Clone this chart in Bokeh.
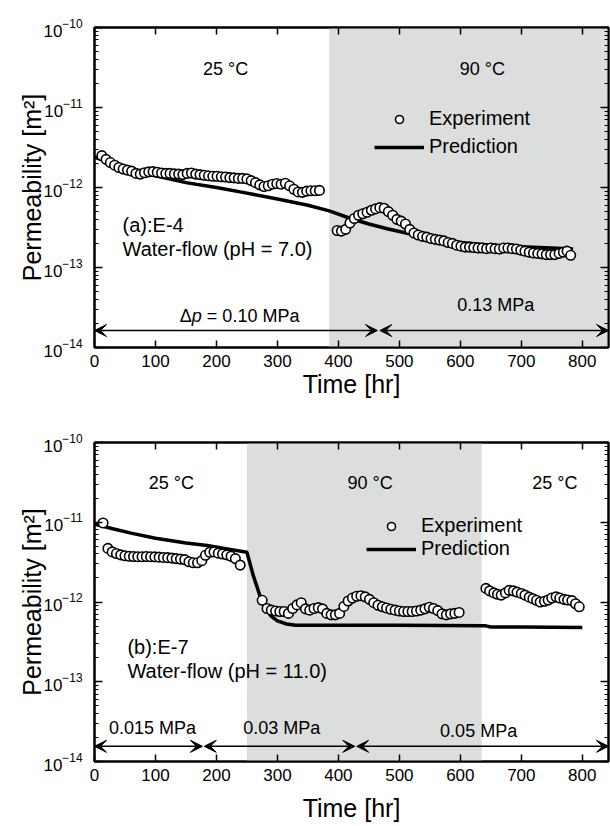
from bokeh.plotting import figure
from bokeh.layouts import column
from bokeh.models import (FixedTicker, LinearAxis, LogAxis, BoxAnnotation, Arrow,
                          VeeHead, Label, Legend, LegendItem, Range1d, CustomJSTickFormatter)
from bokeh.embed import file_html
from bokeh.resources import INLINE

FONT = "Liberation Sans"

# ---------------- data: panel (a) E-4 ----------------
a_exp_time = [12, 19, 26, 33, 40, 47, 54, 61, 68, 75, 82, 89, 96, 103, 110, 117, 124, 131, 138,
              145, 152, 159, 166, 173, 180, 187, 194, 201, 208, 215, 222, 229, 236, 243, 250,
              257, 264, 271, 278, 285, 292, 299, 306, 313, 320, 327, 334, 341, 348, 355, 362, 369,
              398, 405, 412, 419, 426, 433, 440, 447, 454, 461, 468, 475, 482, 489, 496, 503,
              510, 517, 524, 531, 538, 545, 552, 559, 566, 573, 580, 587, 594, 601, 608, 615,
              622, 629, 636, 643, 650, 657, 664, 671, 678, 685, 692, 699, 706, 713, 720, 727,
              734, 741, 748, 755, 762, 769, 775, 781]
a_exp_perm = [2.5e-12, 2.25e-12, 2.05e-12, 1.9e-12, 1.78e-12, 1.7e-12, 1.65e-12, 1.6e-12, 1.5e-12,
              1.47e-12, 1.53e-12, 1.57e-12, 1.58e-12, 1.55e-12, 1.52e-12, 1.5e-12, 1.5e-12,
              1.48e-12, 1.47e-12, 1.45e-12, 1.5e-12, 1.52e-12, 1.47e-12, 1.45e-12, 1.42e-12,
              1.4e-12, 1.38e-12, 1.38e-12, 1.36e-12, 1.35e-12, 1.33e-12, 1.32e-12, 1.3e-12,
              1.3e-12, 1.28e-12, 1.22e-12, 1.15e-12, 1.08e-12, 1.03e-12, 1.05e-12, 1.1e-12,
              1.12e-12, 1.1e-12, 1.13e-12, 1.05e-12, 0.95e-12, 0.88e-12, 0.87e-12, 0.9e-12,
              0.91e-12, 0.91e-12, 0.92e-12,
              2.9e-13, 2.85e-13, 3.0e-13, 3.6e-13, 4.1e-13, 4.5e-13, 4.7e-13, 4.9e-13, 5.2e-13,
              5.4e-13, 5.6e-13, 5.5e-13, 5.0e-13, 4.5e-13, 4.0e-13, 3.8e-13, 3.5e-13, 3.0e-13,
              2.7e-13, 2.55e-13, 2.45e-13, 2.4e-13, 2.3e-13, 2.25e-13, 2.2e-13, 2.15e-13,
              2.05e-13, 2.0e-13, 1.9e-13, 1.85e-13, 1.8e-13, 1.8e-13, 1.78e-13, 1.75e-13,
              1.75e-13, 1.72e-13, 1.75e-13, 1.72e-13, 1.7e-13, 1.75e-13, 1.75e-13, 1.72e-13,
              1.7e-13, 1.65e-13, 1.6e-13, 1.55e-13, 1.52e-13, 1.5e-13, 1.48e-13, 1.45e-13,
              1.45e-13, 1.45e-13, 1.5e-13, 1.55e-13, 1.6e-13, 1.42e-13]
a_pred_time = [0, 20, 50, 100, 150, 200, 250, 300, 350, 385, 420, 450, 480, 520, 560, 600,
               650, 700, 750, 785]
a_pred_perm = [2.4e-12, 2.1e-12, 1.75e-12, 1.4e-12, 1.15e-12, 1.0e-12, 8.5e-13, 7.2e-13,
               6.0e-13, 5.1e-13, 4.1e-13, 3.5e-13, 3.05e-13, 2.6e-13, 2.3e-13, 2.05e-13,
               1.9e-13, 1.82e-13, 1.75e-13, 1.7e-13]

# ---------------- data: panel (b) E-7 ----------------
b_exp_time = [14, 22, 29, 36, 43, 50, 57, 64, 71, 78, 85, 92, 99, 106, 113, 120, 127, 134, 141,
              148, 155, 162, 169, 176, 182, 189, 196, 203, 210, 217, 224, 231, 239,
              275, 283, 290, 297, 304, 311, 318, 325, 332, 339, 346, 353, 360, 367, 374, 381,
              388, 395, 402, 409, 416, 423, 430, 437, 444, 451, 458, 465, 472, 479, 486, 493,
              500, 507, 514, 521, 528, 535, 542, 549, 556, 563, 570, 577, 584, 591, 598,
              642, 648, 655, 661, 667, 674, 680, 687, 693, 700, 706, 713, 719, 725, 731, 738,
              744, 750, 757, 763, 770, 776, 783, 789, 795]
b_exp_perm = [9.8e-12, 4.7e-12, 4.25e-12, 4.05e-12, 3.9e-12, 3.8e-12, 3.75e-12, 3.72e-12,
              3.7e-12, 3.7e-12, 3.72e-12, 3.7e-12, 3.68e-12, 3.65e-12, 3.62e-12, 3.6e-12,
              3.55e-12, 3.5e-12, 3.45e-12, 3.4e-12, 3.2e-12, 3.1e-12, 3.1e-12, 3.3e-12,
              3.85e-12, 4.2e-12, 4.25e-12, 4.1e-12, 4.0e-12, 3.9e-12, 3.75e-12, 3.5e-12, 2.9e-12,
              1.05e-12, 8.3e-13, 7.9e-13, 7.7e-13, 7.6e-13, 7.6e-13, 7.2e-13, 8.3e-13, 9.2e-13,
              9.8e-13, 8.2e-13, 7.9e-13, 8.3e-13, 8.5e-13, 8.2e-13, 7.2e-13, 6.9e-13, 6.9e-13,
              7.2e-13, 8.8e-13, 1.03e-12, 1.12e-12, 1.18e-12, 1.2e-12, 1.16e-12, 1.08e-12,
              9.8e-13, 9.1e-13, 8.7e-13, 8.4e-13, 8.1e-13, 7.9e-13, 7.7e-13, 7.6e-13, 7.6e-13,
              7.6e-13, 7.7e-13, 7.9e-13, 8.2e-13, 8.6e-13, 8.3e-13, 7.8e-13, 7.1e-13, 6.9e-13,
              7.1e-13, 7.2e-13, 7.4e-13,
              1.48e-12, 1.38e-12, 1.3e-12, 1.25e-12, 1.22e-12, 1.3e-12, 1.4e-12, 1.38e-12,
              1.33e-12, 1.28e-12, 1.22e-12, 1.15e-12, 1.1e-12, 1.05e-12, 1.0e-12, 1.02e-12,
              1.06e-12, 1.12e-12, 1.16e-12, 1.12e-12, 1.08e-12, 1.06e-12, 1.04e-12, 0.95e-12,
              0.87e-12]
b_pred_time = [0, 30, 60, 100, 150, 185, 220, 250, 260, 272, 280, 290, 300, 315, 330, 400,
               500, 640, 650, 700, 800]
b_pred_perm = [9.5e-12, 8.3e-12, 7.3e-12, 6.3e-12, 5.5e-12, 5.1e-12, 4.6e-12, 4.2e-12,
               2.2e-12, 1.15e-12, 8.5e-13, 6.6e-13, 5.8e-13, 5.3e-13, 5.1e-13, 5.1e-13,
               5.1e-13, 5.05e-13, 4.85e-13, 4.85e-13, 4.8e-13]

# ---------------- axes ticks ----------------
x_ticks = [0, 100, 200, 300, 400, 500, 600, 700, 800]
y_ticks = [1e-14, 1e-13, 1e-12, 1e-11, 1e-10]
y_minor = [m * d for d in [1e-14, 1e-13, 1e-12, 1e-11] for m in range(2, 10)]


def style_axis(ax, labels=True, minor=False):
    ax.axis_line_color = "black"
    ax.axis_line_width = 2
    ax.major_tick_in = 7
    ax.major_tick_out = 0
    ax.major_tick_line_color = "black"
    ax.major_tick_line_width = 1.5
    if minor:
        ax.minor_tick_in = 4
        ax.minor_tick_out = 0
        ax.minor_tick_line_color = "black"
        ax.minor_tick_line_width = 1
    else:
        ax.minor_tick_line_color = None
    ax.major_label_text_font = FONT
    ax.major_label_text_color = "black"
    ax.major_label_text_font_size = "17px"
    if not labels:
        ax.formatter = CustomJSTickFormatter(code="return ''")
        ax.major_label_standoff = 0


def make_panel(height, b_top, b_bottom, xlabel_standoff):
    p = figure(width=610, height=height, y_axis_type="log",
               x_range=Range1d(0, 843), y_range=Range1d(1e-14, 1e-10),
               output_backend="svg", toolbar_location=None,
               min_border_left=94, min_border_right=2,
               min_border_top=b_top, min_border_bottom=b_bottom)
    p.xgrid.visible = False
    p.ygrid.visible = False
    p.outline_line_color = "black"
    p.outline_line_width = 2
    p.background_fill_color = "white"
    p.border_fill_color = "white"

    p.xaxis.ticker = FixedTicker(ticks=x_ticks)
    p.yaxis.ticker = FixedTicker(ticks=y_ticks, minor_ticks=y_minor)
    for ax in p.xaxis:
        style_axis(ax)
        ax.axis_label = "Time [hr]"
        ax.axis_label_text_font = FONT
        ax.axis_label_text_font_style = "normal"
        ax.axis_label_text_font_size = "25px"
        ax.axis_label_text_color = "black"
        ax.axis_label_standoff = xlabel_standoff
        ax.major_label_standoff = 7
    for ax in p.yaxis:
        style_axis(ax, minor=True)
        ax.major_tick_in = 8
        ax.major_label_standoff = 12
        ax.axis_label = "Permeability [m²]"
        ax.axis_label_text_font = FONT
        ax.axis_label_text_font_style = "normal"
        ax.axis_label_text_font_size = "25px"
        ax.axis_label_text_color = "black"
        ax.axis_label_standoff = -6

    top_ax = LinearAxis(ticker=FixedTicker(ticks=x_ticks))
    style_axis(top_ax, labels=False)
    p.add_layout(top_ax, "above")
    right_ax = LogAxis(ticker=FixedTicker(ticks=y_ticks, minor_ticks=y_minor))
    style_axis(right_ax, labels=False, minor=True)
    right_ax.major_tick_in = 8
    p.add_layout(right_ax, "right")
    return p


def add_text(p, x, y, text, size, align="center", style="normal", x_offset=0):
    p.add_layout(Label(x=x, y=y, text=text, text_align=align, text_baseline="middle",
                       text_font=FONT, text_font_size=size, text_color="black",
                       text_font_style=style, x_offset=x_offset))


def add_arrow(p, x0, x1, y):
    p.add_layout(Arrow(x_start=x0, y_start=y, x_end=x1, y_end=y, line_width=1.5,
                       line_color="black",
                       start=VeeHead(size=12, fill_color="black", line_color="black"),
                       end=VeeHead(size=12, fill_color="black", line_color="black")))


def add_series(p, et, ep, pt, pp, loc, spacing):
    line = p.line(pt, pp, line_color="black", line_width=3.5)
    pts = p.scatter(et, ep, marker="circle", size=9.5, fill_color="white",
                    line_color="black", line_width=1.6)
    leg = Legend(items=[LegendItem(label="Experiment", renderers=[pts]),
                        LegendItem(label="Prediction", renderers=[line])],
                 location=loc, orientation="vertical", padding=0, margin=0,
                 spacing=spacing, glyph_width=50, glyph_height=20, label_height=20,
                 label_standoff=5, border_line_alpha=0, background_fill_alpha=0,
                 label_text_font=FONT, label_text_font_size="20px", label_text_color="black")
    p.add_layout(leg, "center")


# ---------------- panel (a) ----------------
p1 = make_panel(402, 27, 55, 0)
p1.add_layout(BoxAnnotation(left=385, fill_color="#dcdddd", fill_alpha=1.0,
                            line_alpha=0, level="underlay"))
add_series(p1, a_exp_time, a_exp_perm, a_pred_time, a_pred_perm, (280, 189), 5)
add_text(p1, 215, 3.0e-11, "25 °C", "18px")
add_text(p1, 636, 3.0e-11, "90 °C", "18px")
add_text(p1, 46, 3.35e-13, "(a):E-4", "20px", "left")
add_text(p1, 46, 1.7e-13, "Water-flow (pH = 7.0)", "20px", "left")
add_arrow(p1, 0, 464, 1.63e-14)
add_arrow(p1, 468, 843, 1.63e-14)
add_text(p1, 140, 2.5e-14, "Δ", "18px", "left")
add_text(p1, 140, 2.5e-14, "p", "18px", "left", "italic", 12)
add_text(p1, 140, 2.5e-14, "= 0.10 MPa", "18px", "left", "normal", 27)
add_text(p1, 658, 3.4e-14, "0.13 MPa", "18px")

# ---------------- panel (b) ----------------
p2 = make_panel(423, 40, 64, 10)
p2.add_layout(BoxAnnotation(left=250, right=635, fill_color="#dcdddd", fill_alpha=1.0,
                            line_alpha=0, level="underlay"))
add_series(p2, b_exp_time, b_exp_perm, b_pred_time, b_pred_perm, (272, 201), 0)
add_text(p2, 126, 3.1e-11, "25 °C", "18px")
add_text(p2, 452, 3.1e-11, "90 °C", "18px")
add_text(p2, 755, 3.1e-11, "25 °C", "18px")
add_text(p2, 54, 2.76e-13, "(b):E-7", "20px", "left")
add_text(p2, 54, 1.37e-13, "Water-flow (pH = 11.0)", "20px", "left")
add_arrow(p2, 0, 177, 1.55e-14)
add_arrow(p2, 180, 427, 1.55e-14)
add_arrow(p2, 430, 843, 1.55e-14)
add_text(p2, 95, 2.65e-14, "0.015 MPa", "18px")
add_text(p2, 307, 2.65e-14, "0.03 MPa", "18px")
add_text(p2, 630, 2.4e-14, "0.05 MPa", "18px")

layout = column(p1, p2)
open("out.html", "w").write(file_html(layout, INLINE))
